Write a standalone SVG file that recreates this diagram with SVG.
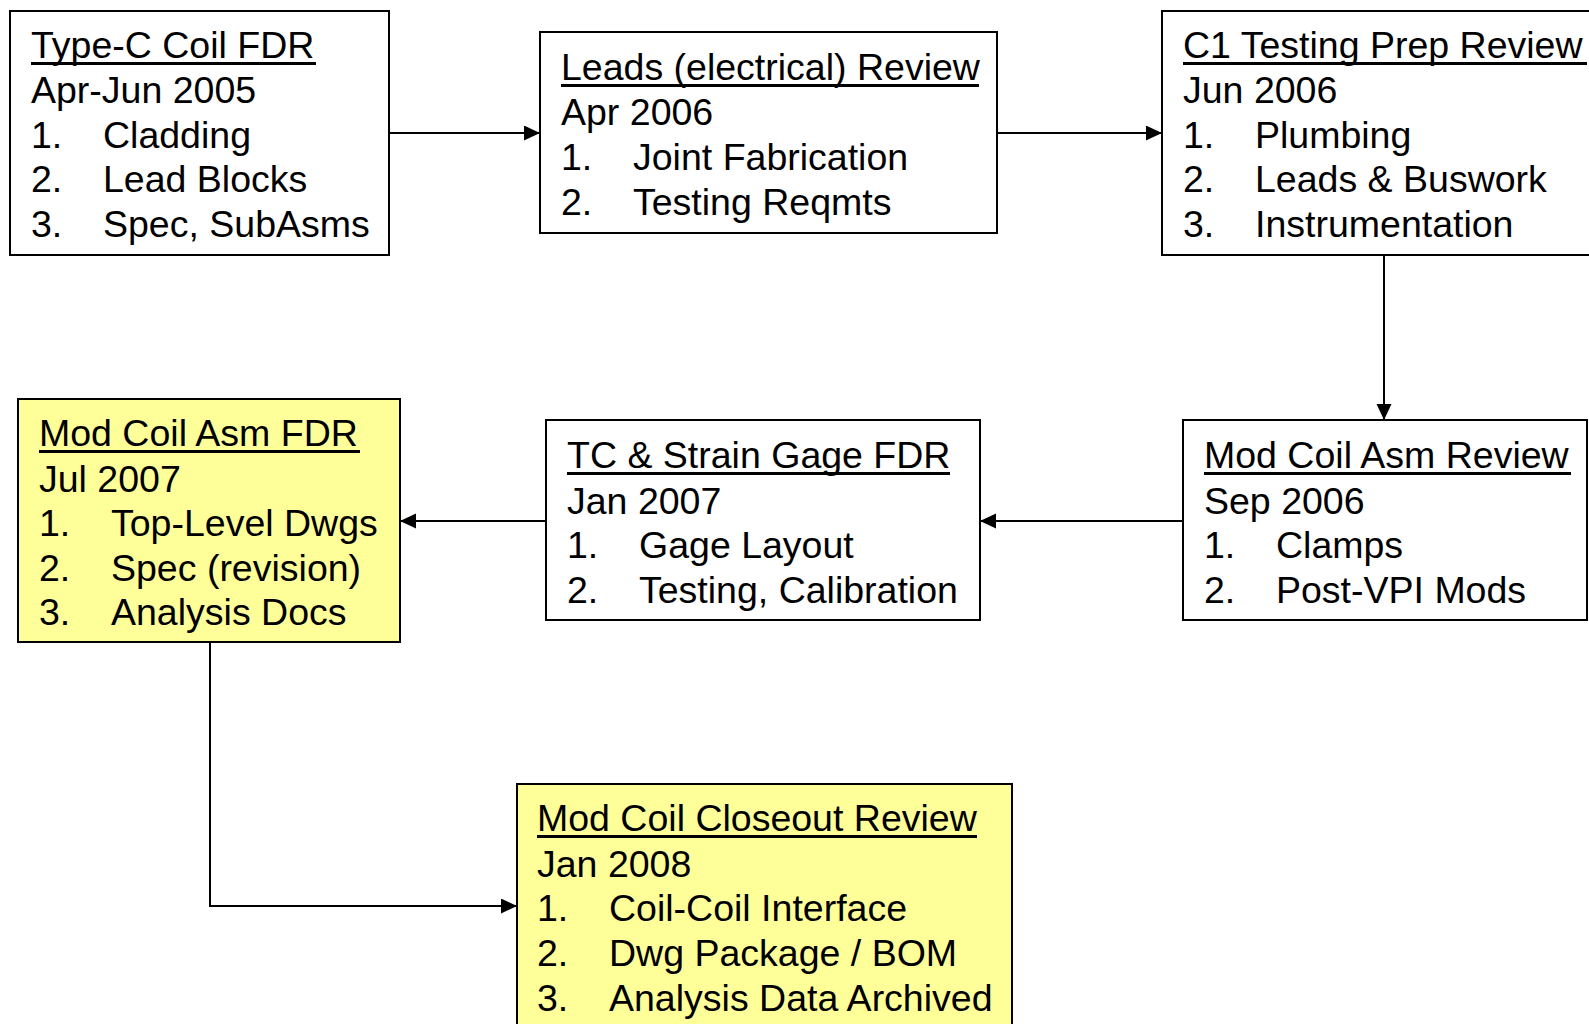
<svg xmlns="http://www.w3.org/2000/svg" width="1589" height="1024" viewBox="0 0 1589 1024">
<defs>
<style>
.box{fill:#ffffff;stroke:#000000;stroke-width:2}
.yel{fill:#ffff99;stroke:#000000;stroke-width:2}
text{font-family:"Liberation Sans",Arial,sans-serif;font-size:37.5px;fill:#000000}
.ul{stroke:#000000;stroke-width:3}
.conn{fill:none;stroke:#000000;stroke-width:2}
</style>
<marker id="arr" markerUnits="userSpaceOnUse" markerWidth="18" markerHeight="16" refX="16" refY="7.5" orient="auto">
<path d="M0,0 L16,7.5 L0,15 z" fill="#000000"/>
</marker>
</defs>
<rect width="1589" height="1024" fill="#ffffff"/>

<g id="connectors">
<line class="conn" x1="389" y1="133" x2="540" y2="133" marker-end="url(#arr)"/>
<line class="conn" x1="997" y1="133" x2="1162" y2="133" marker-end="url(#arr)"/>
<line class="conn" x1="1384" y1="255" x2="1384" y2="420" marker-end="url(#arr)"/>
<line class="conn" x1="1183" y1="521" x2="980" y2="521" marker-end="url(#arr)"/>
<line class="conn" x1="546" y1="521" x2="400" y2="521" marker-end="url(#arr)"/>
<polyline class="conn" points="210,642 210,906 517,906" marker-end="url(#arr)"/>
</g>

<g id="node-typec">
<rect class="box" x="10" y="11" width="379" height="244"/>
<text x="31" y="58">Type-C Coil FDR</text>
<line class="ul" x1="31" y1="63.5" x2="316" y2="63.5"/>
<text x="31" y="103">Apr-Jun 2005</text>
<text x="31" y="148">1.</text><text x="103" y="148">Cladding</text>
<text x="31" y="192">2.</text><text x="103" y="192">Lead Blocks</text>
<text x="31" y="237">3.</text><text x="103" y="237">Spec, SubAsms</text>
</g>

<g id="node-leads">
<rect class="box" x="540" y="32" width="457" height="201"/>
<text x="561" y="80">Leads (electrical) Review</text>
<line class="ul" x1="561" y1="85.5" x2="979" y2="85.5"/>
<text x="561" y="125">Apr 2006</text>
<text x="561" y="170">1.</text><text x="633" y="170">Joint Fabrication</text>
<text x="561" y="215">2.</text><text x="633" y="215">Testing Reqmts</text>
</g>

<g id="node-c1">
<rect class="box" x="1162" y="11" width="440" height="244"/>
<text x="1183" y="58">C1 Testing Prep Review</text>
<line class="ul" x1="1183" y1="63.5" x2="1587" y2="63.5"/>
<text x="1183" y="103">Jun 2006</text>
<text x="1183" y="148">1.</text><text x="1255" y="148">Plumbing</text>
<text x="1183" y="192">2.</text><text x="1255" y="192">Leads &amp; Buswork</text>
<text x="1183" y="237">3.</text><text x="1255" y="237">Instrumentation</text>
</g>

<g id="node-modreview">
<rect class="box" x="1183" y="420" width="404" height="200"/>
<text x="1204" y="468">Mod Coil Asm Review</text>
<line class="ul" x1="1204" y1="473.5" x2="1571" y2="473.5"/>
<text x="1204" y="514">Sep 2006</text>
<text x="1204" y="558">1.</text><text x="1276" y="558">Clamps</text>
<text x="1204" y="603">2.</text><text x="1276" y="603">Post-VPI Mods</text>
</g>

<g id="node-tc">
<rect class="box" x="546" y="420" width="434" height="200"/>
<text x="567" y="468">TC &amp; Strain Gage FDR</text>
<line class="ul" x1="567" y1="473.5" x2="950" y2="473.5"/>
<text x="567" y="514">Jan 2007</text>
<text x="567" y="558">1.</text><text x="639" y="558">Gage Layout</text>
<text x="567" y="603">2.</text><text x="639" y="603">Testing, Calibration</text>
</g>

<g id="node-modfdr">
<rect class="yel" x="18" y="399" width="382" height="243"/>
<text x="39" y="446">Mod Coil Asm FDR</text>
<line class="ul" x1="39" y1="451.5" x2="360" y2="451.5"/>
<text x="39" y="492">Jul 2007</text>
<text x="39" y="536">1.</text><text x="111" y="536">Top-Level Dwgs</text>
<text x="39" y="581">2.</text><text x="111" y="581">Spec (revision)</text>
<text x="39" y="625">3.</text><text x="111" y="625">Analysis Docs</text>
</g>

<g id="node-closeout">
<rect class="yel" x="517" y="784" width="495" height="260"/>
<text x="537" y="831">Mod Coil Closeout Review</text>
<line class="ul" x1="537" y1="836.5" x2="977" y2="836.5"/>
<text x="537" y="877">Jan 2008</text>
<text x="537" y="921">1.</text><text x="609" y="921">Coil-Coil Interface</text>
<text x="537" y="966">2.</text><text x="609" y="966">Dwg Package / BOM</text>
<text x="537" y="1011">3.</text><text x="609" y="1011">Analysis Data Archived</text>
</g>
</svg>
